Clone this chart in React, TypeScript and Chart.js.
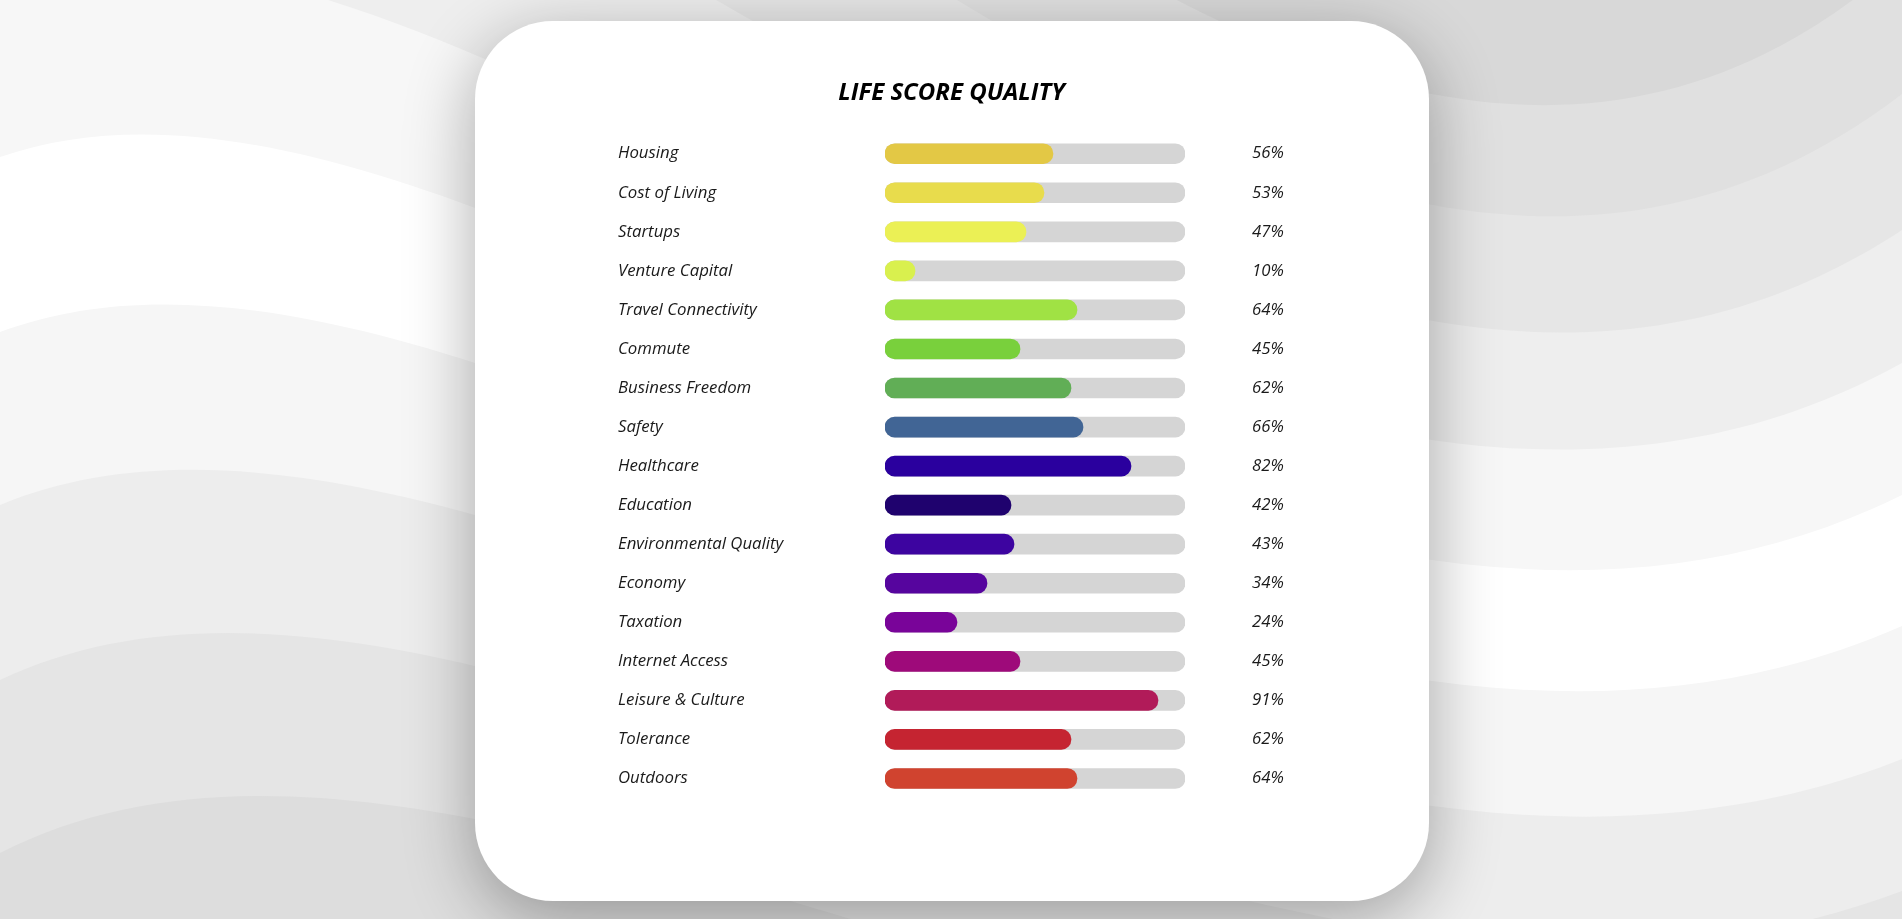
import React, { useEffect, useRef } from "react";
import { Chart, registerables } from "chart.js";

Chart.register(...registerables);

const chartTitle = "LIFE SCORE QUALITY";

const categories = [
  "Housing",
  "Cost of Living",
  "Startups",
  "Venture Capital",
  "Travel Connectivity",
  "Commute",
  "Business Freedom",
  "Safety",
  "Healthcare",
  "Education",
  "Environmental Quality",
  "Economy",
  "Taxation",
  "Internet Access",
  "Leisure & Culture",
  "Tolerance",
  "Outdoors",
];

const scores = [56, 53, 47, 10, 64, 45, 62, 66, 82, 42, 43, 34, 24, 45, 91, 62, 64];

const scoreLabels = [
  "56%", "53%", "47%", "10%", "64%", "45%", "62%", "66%", "82%",
  "42%", "43%", "34%", "24%", "45%", "91%", "62%", "64%",
];

const trackMax = [100, 100, 100, 100, 100, 100, 100, 100, 100, 100, 100, 100, 100, 100, 100, 100, 100];

const barColors = [
  "#e3c845",
  "#e8dc4c",
  "#ebf055",
  "#d9f04e",
  "#a0e244",
  "#79d03c",
  "#61ae56",
  "#416595",
  "#2a009e",
  "#1f026e",
  "#3d04a0",
  "#56059e",
  "#790499",
  "#9e0a7a",
  "#b11b59",
  "#c52431",
  "#d0432f",
];

// decorative background waves: [y at x=0, y at x=475, y at x=1430, y at x=1902, fill above]
const waveLines: [number, number, number, number, string][] = [
  [853, 819, 1060, 1020, "#e5e5e5"],
  [680, 666, 935, 891, "#ededed"],
  [505, 515, 806, 759, "#f6f6f6"],
  [332, 363, 681, 626, "#ffffff"],
  [157, 208, 560, 495, "#f7f7f7"],
  [-20, 55, 440, 363, "#eeeeee"],
  [-200, -130, 321, 230, "#e6e6e6"],
  [-380, -300, 205, 94, "#e0e0e0"],
  [-560, -470, 94, -40, "#d8d8d8"],
];

function bern(t: number) {
  const u = 1 - t;
  return [u * u * u, 3 * u * u * t, 3 * u * t * t, t * t * t];
}

function wavePath(yL: number, yA: number, yC: number, yR: number) {
  const c1x = 480, c2x = 1250;
  const b1 = bern(0.287);
  const b2 = bern(0.767);
  const r1 = yA - b1[0] * yL - b1[3] * yR;
  const r2 = yC - b2[0] * yL - b2[3] * yR;
  const det = b1[1] * b2[2] - b1[2] * b2[1];
  const p1 = (r1 * b2[2] - b1[2] * r2) / det;
  const p2 = (b1[1] * r2 - r1 * b2[1]) / det;
  return `M0,-1200 L0,${yL} C${c1x},${p1} ${c2x},${p2} 1902,${yR} L1902,-1200 Z`;
}

const FONT = "'Open Sans', Lato, sans-serif";
const labelFont = { family: FONT, size: 16.8, style: "italic" as const };

export default function App() {
  const canvasRef = useRef<HTMLCanvasElement | null>(null);

  useEffect(() => {
    if (!canvasRef.current) return;
    const chart = new Chart(canvasRef.current, {
      type: "bar",
      data: {
        labels: categories,
        datasets: [
          {
            label: "Score",
            data: scores,
            backgroundColor: barColors,
            barThickness: 20,
            borderRadius: 10,
            borderSkipped: false,
            grouped: false,
            order: 0,
          },
          {
            label: "Track",
            data: trackMax,
            backgroundColor: "#d5d5d5",
            barThickness: 20,
            borderRadius: 10,
            borderSkipped: false,
            grouped: false,
            order: 1,
          },
        ],
      },
      options: {
        indexAxis: "y",
        responsive: false,
        maintainAspectRatio: false,
        animation: false,
        layout: { padding: { left: 0, right: 1, top: 0, bottom: 0 } },
        plugins: {
          legend: { display: false },
          tooltip: { enabled: false },
          title: {
            display: true,
            text: chartTitle,
            color: "#000000",
            font: { family: FONT, size: 24, weight: "bold", style: "italic", lineHeight: 1.2 },
            padding: { top: 28.6, bottom: 26.8 },
          },
        },
        scales: {
          x: { display: false, min: 0, max: 100 },
          y: {
            position: "left",
            grid: { display: false, drawTicks: false },
            border: { display: false },
            ticks: {
              crossAlign: "far",
              autoSkip: false,
              padding: 0,
              color: "#1a1a1a",
              font: labelFont,
            },
            afterFit: (s: any) => {
              s.width = 267;
              s.paddingTop = 0;
              s.paddingBottom = 0;
            },
          },
          y2: {
            type: "category",
            labels: scoreLabels,
            position: "right",
            offset: true,
            grid: { display: false, drawTicks: false },
            border: { display: false },
            ticks: {
              autoSkip: false,
              padding: 67,
              color: "#1a1a1a",
              font: labelFont,
            },
            afterFit: (s: any) => {
              s.width = 100;
              s.paddingTop = 0;
              s.paddingBottom = 0;
            },
          },
        },
      },
    } as any);
    return () => chart.destroy();
  }, []);

  return (
    <div style={{ position: "fixed", left: 0, top: 0, width: 1902, height: 919, overflow: "hidden", background: "#dddddd" }}>
      <svg width={1902} height={919} style={{ position: "absolute", left: 0, top: 0 }}>
        {waveLines.map((w, i) => (
          <path key={i} d={wavePath(w[0], w[1], w[2], w[3])} fill={w[4]} />
        ))}
      </svg>
      <div
        style={{
          position: "absolute",
          left: 475,
          top: 21,
          width: 954,
          height: 880,
          background: "#ffffff",
          borderRadius: 78,
          boxShadow: "0 18px 70px rgba(0,0,0,0.33)",
        }}
      />
      <canvas
        ref={canvasRef}
        width={668}
        height={748}
        style={{ position: "absolute", left: 618, top: 50, width: 668, height: 748 }}
      />
    </div>
  );
}
